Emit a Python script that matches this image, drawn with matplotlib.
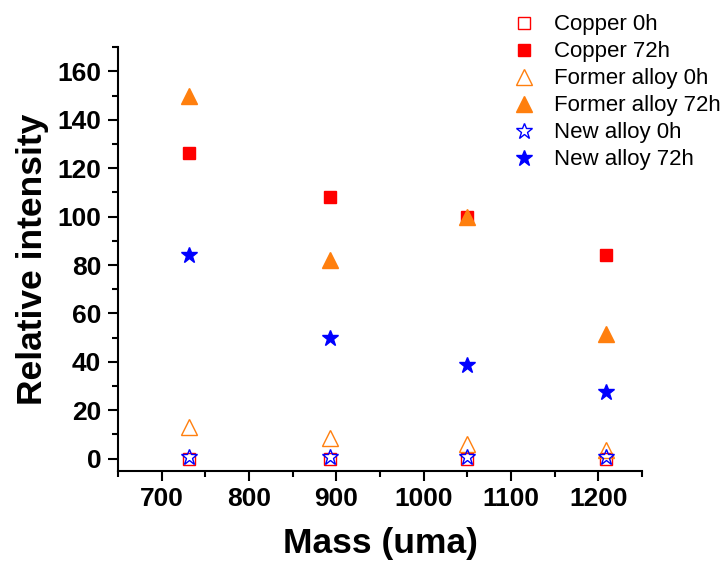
import matplotlib
matplotlib.use("Agg")
import matplotlib.pyplot as plt
from matplotlib.ticker import MultipleLocator

plt.rcParams['font.family'] = ['Liberation Sans', 'DejaVu Sans']

mass = [731, 893, 1050, 1209]
copper_0h = [0, 0, 0, 0]
copper_72h = [126.5, 108, 100, 84]
former_0h = [13, 8.5, 6, 3.5]
former_72h = [150, 82, 100, 51.5]
new_0h = [0.5, 0.5, 0.5, 0.5]
new_72h = [84, 50, 38.5, 27.5]

fig = plt.figure(figsize=(7.21, 5.61), dpi=100)
ax = fig.add_axes([0.1637, 0.161, 0.7267, 0.7547])

ax.plot(mass, copper_0h, 's', mfc='none', mec='red', ms=9, mew=1, label='Copper 0h')
ax.plot(mass, copper_72h, 's', color='red', ms=9, label='Copper 72h')
ax.plot(mass, former_0h, '^', mfc='none', mec='#ff7f0e', ms=11, mew=1, label='Former alloy 0h')
ax.plot(mass, former_72h, '^', color='#ff7f0e', ms=11, label='Former alloy 72h')
ax.plot(mass, new_0h, '*', mfc='none', mec='blue', ms=12, mew=1, label='New alloy 0h')
ax.plot(mass, new_72h, '*', color='blue', ms=12, label='New alloy 72h')

ax.set_xlim(650, 1250)
ax.set_ylim(-5, 170)
ax.xaxis.set_major_locator(MultipleLocator(100))
ax.xaxis.set_minor_locator(MultipleLocator(50))
ax.yaxis.set_major_locator(MultipleLocator(20))
ax.yaxis.set_minor_locator(MultipleLocator(10))

for s in ['top', 'right']:
    ax.spines[s].set_visible(False)
for s in ['left', 'bottom']:
    ax.spines[s].set_linewidth(1.5)
ax.tick_params(which='major', direction='out', length=7, width=1.5, labelsize=19, pad=5)
ax.tick_params(which='minor', direction='out', length=4, width=1.5)
for lab in ax.get_xticklabels() + ax.get_yticklabels():
    lab.set_fontweight('bold')

ax.set_xlabel('Mass (uma)', fontsize=25.5, fontweight='bold', labelpad=11)
ax.set_ylabel('Relative intensity', fontsize=25.5, fontweight='bold', labelpad=6)

fig.legend(loc='upper left', bbox_to_anchor=(0.68, 1.01), frameon=False,
           fontsize=16, handletextpad=0.75, labelspacing=0.27, handlelength=1.2)

fig.savefig('out.png', dpi=100)
